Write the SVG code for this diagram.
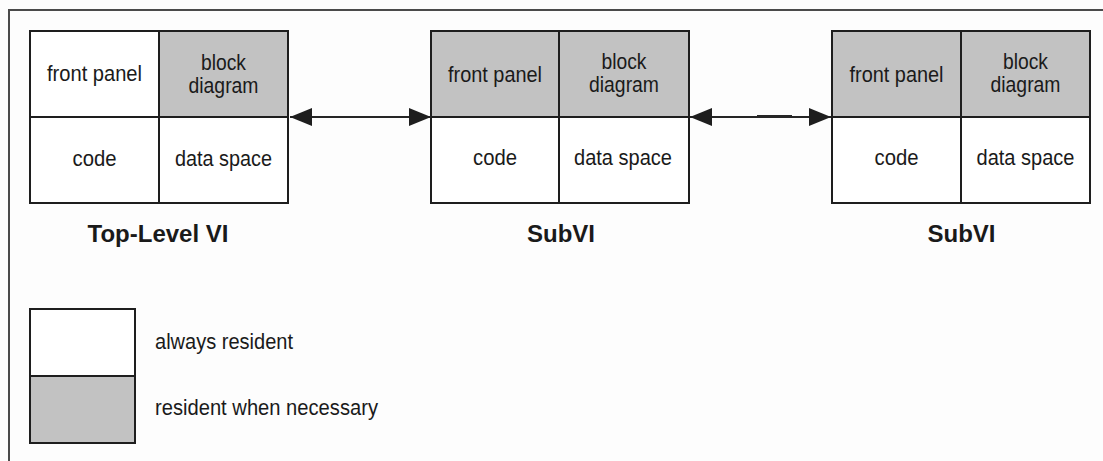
<svg xmlns="http://www.w3.org/2000/svg" width="1103" height="461" viewBox="0 0 1103 461">
  <style>
    .cell { stroke: #1e1e1e; stroke-width: 2; }
    .white { fill: #ffffff; }
    .gray { fill: #c2c2c2; }
    .lbl { font-family: "Liberation Sans", Arial, sans-serif; font-size: 22px; fill: #1a1a1a; text-anchor: middle; }
    .title { font-family: "Liberation Sans", Arial, sans-serif; font-size: 24px; font-weight: bold; fill: #1a1a1a; text-anchor: middle; }
    .legend { font-family: "Liberation Sans", Arial, sans-serif; font-size: 22px; fill: #1a1a1a; }
    .conn { stroke: #262626; stroke-width: 2; fill: none; }
  </style>
  <defs>
    <marker id="head" markerUnits="userSpaceOnUse" markerWidth="24" markerHeight="20" refX="22" refY="9" orient="auto-start-reverse">
      <path d="M0,0 L22,9 L0,18 Z" fill="#1e1e1e"/>
    </marker>
  </defs>

  <rect x="0" y="0" width="1103" height="461" fill="#fdfdfd"/>

  <!-- outer frame: top and left edges -->
  <path d="M9,461 L9,10 L1103,10" fill="none" stroke="#4a4a4a" stroke-width="2"/>

  <!-- top-level VI -->
  <g id="top-level-vi">
    <rect class="cell white" x="30" y="31" width="129" height="86"/>
    <rect class="cell gray" x="159" y="31" width="129" height="86"/>
    <rect class="cell white" x="30" y="117" width="129" height="86"/>
    <rect class="cell white" x="159" y="117" width="129" height="86"/>
    <text class="lbl" x="94.5" y="81" textLength="95" lengthAdjust="spacingAndGlyphs">front panel</text>
    <text class="lbl" x="223.5" y="70" textLength="45" lengthAdjust="spacingAndGlyphs">block</text>
    <text class="lbl" x="223.5" y="93" textLength="70" lengthAdjust="spacingAndGlyphs">diagram</text>
    <text class="lbl" x="94.5" y="166" textLength="44" lengthAdjust="spacingAndGlyphs">code</text>
    <text class="lbl" x="223.5" y="166" textLength="97" lengthAdjust="spacingAndGlyphs">data space</text>
    <text class="title" x="158" y="242">Top-Level VI</text>
  </g>

  <!-- first subVI -->
  <g id="subvi-1">
    <rect class="cell gray" x="431" y="31" width="128" height="86"/>
    <rect class="cell gray" x="559" y="31" width="130" height="86"/>
    <rect class="cell white" x="431" y="117" width="128" height="86"/>
    <rect class="cell white" x="559" y="117" width="130" height="86"/>
    <text class="lbl" x="495" y="82" textLength="94" lengthAdjust="spacingAndGlyphs">front panel</text>
    <text class="lbl" x="624" y="69" textLength="45" lengthAdjust="spacingAndGlyphs">block</text>
    <text class="lbl" x="624" y="92" textLength="70" lengthAdjust="spacingAndGlyphs">diagram</text>
    <text class="lbl" x="495" y="165" textLength="44" lengthAdjust="spacingAndGlyphs">code</text>
    <text class="lbl" x="623" y="165" textLength="98" lengthAdjust="spacingAndGlyphs">data space</text>
    <text class="title" x="561" y="242">SubVI</text>
  </g>

  <!-- second subVI -->
  <g id="subvi-2">
    <rect class="cell gray" x="832" y="31" width="129" height="86"/>
    <rect class="cell gray" x="961" y="31" width="129" height="86"/>
    <rect class="cell white" x="832" y="117" width="129" height="86"/>
    <rect class="cell white" x="961" y="117" width="129" height="86"/>
    <text class="lbl" x="896.5" y="82" textLength="94" lengthAdjust="spacingAndGlyphs">front panel</text>
    <text class="lbl" x="1025.5" y="69" textLength="45" lengthAdjust="spacingAndGlyphs">block</text>
    <text class="lbl" x="1025.5" y="92" textLength="70" lengthAdjust="spacingAndGlyphs">diagram</text>
    <text class="lbl" x="896.5" y="165" textLength="44" lengthAdjust="spacingAndGlyphs">code</text>
    <text class="lbl" x="1025.5" y="165" textLength="98" lengthAdjust="spacingAndGlyphs">data space</text>
    <text class="title" x="961.5" y="242">SubVI</text>
  </g>

  <!-- calls between VIs -->
  <g id="connectors">
    <line class="conn" x1="290" y1="117" x2="431" y2="117" marker-start="url(#head)" marker-end="url(#head)"/>
    <line class="conn" x1="690" y1="117" x2="831" y2="117" marker-start="url(#head)" marker-end="url(#head)"/>
    <line x1="757" y1="116.5" x2="792" y2="116.5" stroke="#262626" stroke-width="3"/>
  </g>

  <!-- key -->
  <g id="legend">
    <rect class="cell white" x="30" y="309" width="105" height="67"/>
    <rect class="cell gray" x="30" y="376" width="105" height="67"/>
    <text class="legend" x="155" y="349" textLength="138" lengthAdjust="spacingAndGlyphs">always resident</text>
    <text class="legend" x="155" y="415" textLength="223" lengthAdjust="spacingAndGlyphs">resident when necessary</text>
  </g>
</svg>
